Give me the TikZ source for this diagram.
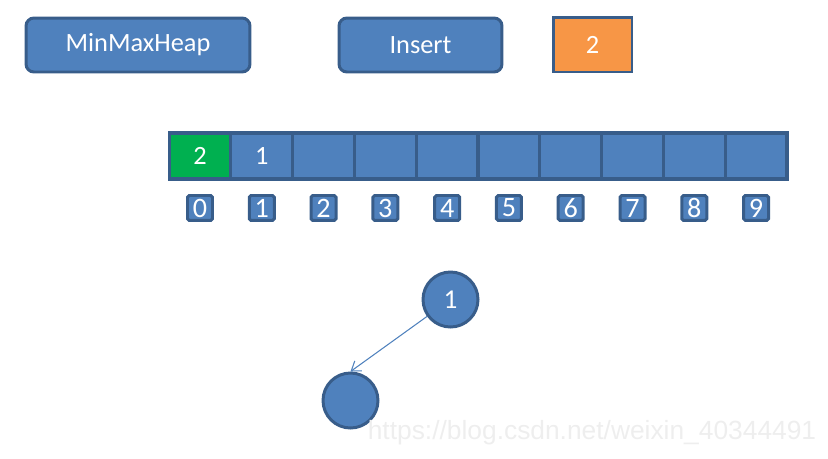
\documentclass[tikz,border=0pt]{standalone}
\usepackage{fontspec}
\setmainfont{Carlito}
\newfontfamily\wmfont{Liberation Sans}
\usetikzlibrary{positioning, arrows.meta}

\definecolor{boxblue}{HTML}{4F81BD}
\definecolor{edgeblue}{HTML}{385D8A}
\definecolor{keyorange}{HTML}{F79646}
\definecolor{rootgreen}{HTML}{00B050}

\begin{document}
\begin{tikzpicture}
    [x=0.02cm, y=-0.02cm,
    btnnode/.style={rectangle, rounded corners=4.5pt, draw=edgeblue, fill=boxblue, line width=1.7pt,
        text=white, minimum height=1.08cm, font=\fontsize{15}{17}\selectfont},
    keynode/.style={rectangle, draw=edgeblue, fill=keyorange, line width=1.7pt, text=white,
        minimum width=1.58cm, minimum height=1.1cm, font=\fontsize{15}{17}\selectfont},
    cellnode/.style={rectangle, draw=edgeblue, fill=boxblue, line width=1.8pt, text=white,
        minimum width=1.236cm, minimum height=0.92cm, outer sep=0pt, font=\fontsize{15}{17}\selectfont},
    idxnode/.style={rectangle, rounded corners=1pt, draw=edgeblue, fill=boxblue, line width=1.7pt,
        text=white, minimum size=0.5cm, inner sep=0pt, font=\fontsize{16}{18}\selectfont},
    heapnode/.style={circle, draw=edgeblue, fill=boxblue, line width=1.7pt, text=white,
        minimum size=1.1cm, font=\fontsize{15.5}{17}\selectfont},
    watermark/.style={text=gray!13, font=\wmfont\fontsize{15}{17}\selectfont}]

    \useasboundingbox (0,0) rectangle (828,458);

    %Top row
    \node[btnnode, minimum width=4.48cm] (heap) at (138,45) {MinMaxHeap};
    \node[btnnode, minimum width=3.26cm] (insert) at (420.5,45) {Insert};
    \node[keynode] (key) at (592.5,44.5) {2};

    %Array
    \node[cellnode, fill=rootgreen] (c0) at (200,156) {2};
    \node[cellnode, right=0pt of c0] (c1) {1};
    \foreach \i [count=\j from 1] in {2,...,9}
        \node[cellnode, right=0pt of c\j] (c\i) {};

    %Indices
    \foreach \i in {0,...,9}
        \node[idxnode, below=0.3cm of c\i] (i\i) {\i};

    %Tree
    \node[heapnode] (n1) at (450.5,299.5) {1};
    \node[heapnode] (n2) at (350.5,400.5) {};
    \draw[-{Straight Barb[length=5pt, width=7pt]}, boxblue, line width=0.6pt] (n1) -- (n2.north);

    \node[watermark] (wm) at (592,433) {https://blog.csdn.net/weixin\_40344491};
\end{tikzpicture}
\end{document}
